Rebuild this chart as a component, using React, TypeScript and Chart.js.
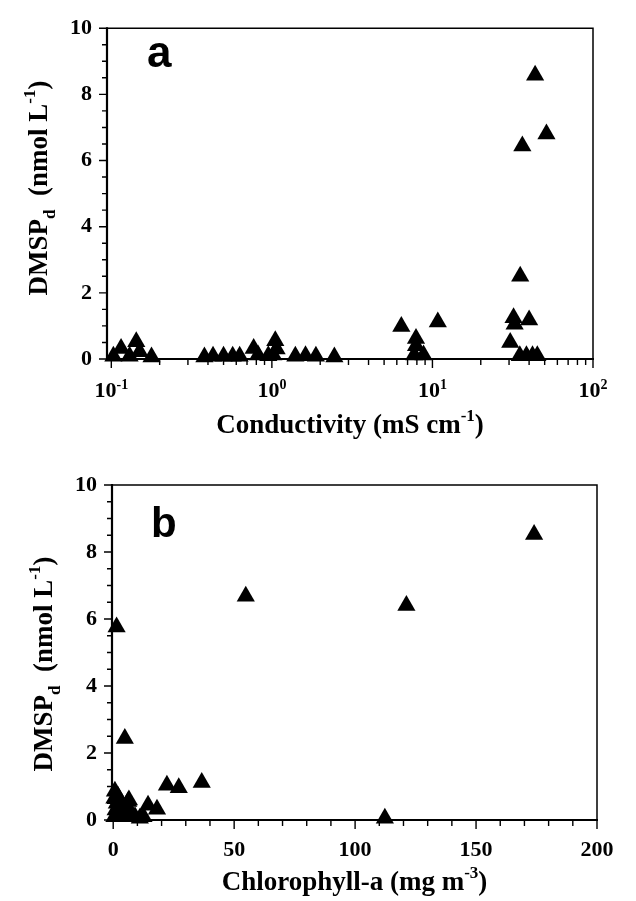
import React, { useEffect, useRef } from 'react';
import { Chart, registerables } from 'chart.js';

Chart.register(...registerables);

// ---- Panel a: conductivity (mS cm-1) vs DMSPd (nmol L-1)
const conductivity = [
  0.103, 0.115, 0.13, 0.143, 0.15, 0.178,
  0.38, 0.43, 0.5, 0.57, 0.63, 0.77, 0.82, 0.95, 1.02, 1.05, 1.07, 1.4, 1.62, 1.88, 2.45,
  6.4, 7.9, 7.9, 7.7, 8.8, 10.8,
  30.5, 32, 32.5, 35.2, 36.3, 40, 35, 38.5, 42, 45, 43.6, 51.3,
];
const dmspA = [
  0.08, 0.32, 0.08, 0.52, 0.22, 0.06,
  0.06, 0.08, 0.08, 0.08, 0.08, 0.32, 0.12, 0.1, 0.12, 0.55, 0.3, 0.08, 0.1, 0.08, 0.06,
  0.98, 0.62, 0.4, 0.12, 0.12, 1.12,
  0.5, 1.25, 1.05, 2.5, 6.44, 1.18, 0.1, 0.1, 0.1, 0.1, 8.58, 6.8,
];

// ---- Panel b: chlorophyll-a (mg m-3) vs DMSPd (nmol L-1)
const chlorophyll = [
  174, 54.8, 121.2, 1.4, 4.8, 22.2, 27.1, 36.6, 112.3, 14.4, 18.1, 0.7, 6.2,
  0.5, 1, 1.5, 2.5, 3, 4, 5.5, 6.5, 7.5, 9, 11, 12.5, 0.5, 2,
];
const dmspB = [
  8.52, 6.68, 6.4, 5.76, 2.43, 1.04, 0.96, 1.12, 0.05, 0.44, 0.32, 0.86, 0.55,
  0.1, 0.3, 0.5, 0.15, 0.4, 0.1, 0.3, 0.6, 0.2, 0.1, 0.05, 0.1, 0.65, 0.7,
];

const yTickValues = [0, 2, 4, 6, 8, 10];
const condTickValues = [0.1, 1, 10, 100];
const condTickExponents = ['-1', '0', '1', '2'];
const chlTickValues = [0, 50, 100, 150, 200];

const SERIF = '"Liberation Serif", "Times New Roman", serif';
const SANS = '"Liberation Sans", Arial, sans-serif';

type Piece = { t: string; k: 'n' | 'sub' | 'sup' };

function drawRich(ctx: CanvasRenderingContext2D, pieces: Piece[], x: number, y: number, size: number) {
  const small = Math.round(size * 0.62);
  const fonts = pieces.map((p) => (p.k === 'n' ? `bold ${size}px ${SERIF}` : `bold ${small}px ${SERIF}`));
  const widths = pieces.map((p, i) => {
    ctx.font = fonts[i];
    return ctx.measureText(p.t).width;
  });
  const total = widths.reduce((a, b) => a + b, 0);
  let cx = x - total / 2;
  ctx.textAlign = 'left';
  ctx.textBaseline = 'alphabetic';
  pieces.forEach((p, i) => {
    ctx.font = fonts[i];
    const dy = p.k === 'sub' ? size * 0.3 : p.k === 'sup' ? -size * 0.45 : 0;
    ctx.fillText(p.t, cx, y + dy);
    cx += widths[i];
  });
}

type DecorCfg = {
  id: string;
  letter: string;
  letterX: number;
  letterY: number;
  letterSize: number;
  xTitle: Piece[];
  xTitleY: number;
  yTitle: Piece[];
  yTitleX: number;
  yTitleY: number;
  xMajor: number[];
  xMinor: number[];
  yMajor: number[];
  yMinor: number[];
  xLabels?: { values: number[]; exps: string[]; baseline: number };
};

function makeDecor(cfg: DecorCfg) {
  return {
    id: cfg.id,
    afterDraw(chart: any) {
      const ctx: CanvasRenderingContext2D = chart.ctx;
      const { left, right, top, bottom } = chart.chartArea;
      const xs = chart.scales.x;
      const ys = chart.scales.y;
      ctx.save();
      ctx.strokeStyle = '#000';
      ctx.fillStyle = '#000';
      // frame
      ctx.lineWidth = 1.5;
      ctx.beginPath();
      ctx.moveTo(left, top);
      ctx.lineTo(right, top);
      ctx.lineTo(right, bottom);
      ctx.stroke();
      ctx.lineWidth = 2.2;
      ctx.beginPath();
      ctx.moveTo(left, top - 1);
      ctx.lineTo(left, bottom);
      ctx.lineTo(right + 1, bottom);
      ctx.stroke();
      // ticks
      ctx.lineWidth = 1.4;
      ctx.beginPath();
      cfg.xMajor.forEach((v) => {
        const px = xs.getPixelForValue(v);
        ctx.moveTo(px, bottom);
        ctx.lineTo(px, bottom + 9);
      });
      cfg.xMinor.forEach((v) => {
        const px = xs.getPixelForValue(v);
        ctx.moveTo(px, bottom);
        ctx.lineTo(px, bottom + 6);
      });
      cfg.yMajor.forEach((v) => {
        const py = ys.getPixelForValue(v);
        ctx.moveTo(left, py);
        ctx.lineTo(left - 8, py);
      });
      cfg.yMinor.forEach((v) => {
        const py = ys.getPixelForValue(v);
        ctx.moveTo(left, py);
        ctx.lineTo(left - 5, py);
      });
      ctx.stroke();
      // custom x labels (powers of ten)
      if (cfg.xLabels) {
        const base = 22;
        const sm = 14;
        cfg.xLabels.values.forEach((v, i) => {
          const px = xs.getPixelForValue(v);
          ctx.font = `bold ${base}px ${SERIF}`;
          const w1 = ctx.measureText('10').width;
          ctx.font = `bold ${sm}px ${SERIF}`;
          const w2 = ctx.measureText(cfg.xLabels!.exps[i]).width;
          const x0 = px - (w1 + w2) / 2;
          ctx.textAlign = 'left';
          ctx.textBaseline = 'alphabetic';
          ctx.font = `bold ${base}px ${SERIF}`;
          ctx.fillText('10', x0, cfg.xLabels!.baseline);
          ctx.font = `bold ${sm}px ${SERIF}`;
          ctx.fillText(cfg.xLabels!.exps[i], x0 + w1, cfg.xLabels!.baseline - 8);
        });
      }
      // titles
      drawRich(ctx, cfg.xTitle, (left + right) / 2, cfg.xTitleY, 27);
      ctx.save();
      ctx.translate(cfg.yTitleX, cfg.yTitleY);
      ctx.rotate(-Math.PI / 2);
      drawRich(ctx, cfg.yTitle, 0, 0, 27);
      ctx.restore();
      // panel letter
      ctx.font = `bold ${cfg.letterSize}px ${SANS}`;
      ctx.textAlign = 'left';
      ctx.textBaseline = 'alphabetic';
      ctx.fillText(cfg.letter, cfg.letterX, cfg.letterY);
      ctx.restore();
    },
  };
}

const yTitle: Piece[] = [
  { t: 'DMSP', k: 'n' },
  { t: 'd', k: 'sub' },
  { t: '  (nmol L', k: 'n' },
  { t: '-1', k: 'sup' },
  { t: ')', k: 'n' },
];

const yMinorValues: number[] = [];
for (let i = 0; i <= 20; i++) if (i % 4 !== 0) yMinorValues.push(i / 2);

const condMinor: number[] = [];
[0.1, 1, 10].forEach((d) => {
  for (let m = 2; m <= 9; m++) condMinor.push(d * m);
});

const chlMinor: number[] = [];
for (let v = 0; v <= 200; v += 10) if (v % 50 !== 0) chlMinor.push(v);

const tickFont = { family: SERIF, size: 22, weight: 'bold' as const };

function baseY(width: number) {
  return {
    min: 0,
    max: 10,
    afterBuildTicks: (s: any) => {
      s.ticks = yTickValues.map((v) => ({ value: v }));
    },
    ticks: { font: tickFont, color: '#000', padding: 15 },
    grid: { display: false, drawTicks: false },
    border: { display: false },
    afterFit: (s: any) => {
      s.width = width;
    },
  };
}

function dataset(xs: number[], ys: number[]) {
  return {
    data: xs.map((x, i) => ({ x, y: ys[i] })),
    pointStyle: 'triangle',
    radius: 10.5,
    hoverRadius: 10.5,
    backgroundColor: '#000',
    borderColor: '#000',
    borderWidth: 0,
    clip: false as const,
  };
}

export default function App() {
  const refA = useRef<HTMLCanvasElement>(null);
  const refB = useRef<HTMLCanvasElement>(null);

  useEffect(() => {
    const chartA = new Chart(refA.current as HTMLCanvasElement, {
      type: 'scatter',
      data: { datasets: [dataset(conductivity, dmspA) as any] },
      options: {
        responsive: false,
        animation: false,
        devicePixelRatio: 1,
        events: [],
        layout: { padding: { top: 23, right: 43, left: 0, bottom: 0 } },
        plugins: { legend: { display: false }, tooltip: { enabled: false } },
        scales: {
          x: {
            type: 'logarithmic',
            min: 0.094,
            max: 100,
            afterBuildTicks: (s: any) => {
              s.ticks = condTickValues.map((v) => ({ value: v }));
            },
            ticks: { display: false },
            grid: { display: false, drawTicks: false },
            border: { display: false },
            afterFit: (s: any) => {
              s.height = 440 - 359;
            },
          },
          y: baseY(107) as any,
        },
      },
      plugins: [
        makeDecor({
          id: 'decorA',
          letter: 'a',
          letterX: 147,
          letterY: 67,
          letterSize: 44,
          xTitle: [
            { t: 'Conductivity (mS cm', k: 'n' },
            { t: '-1', k: 'sup' },
            { t: ')', k: 'n' },
          ],
          xTitleY: 433,
          yTitle,
          yTitleX: 47,
          yTitleY: 188,
          xMajor: condTickValues,
          xMinor: condMinor,
          yMajor: yTickValues,
          yMinor: yMinorValues,
          xLabels: { values: condTickValues, exps: condTickExponents, baseline: 397 },
        }),
      ],
    });

    const chartB = new Chart(refB.current as HTMLCanvasElement, {
      type: 'scatter',
      data: { datasets: [dataset(chlorophyll, dmspB) as any] },
      options: {
        responsive: false,
        animation: false,
        devicePixelRatio: 1,
        events: [],
        layout: { padding: { top: 45, right: 39, left: 0, bottom: 0 } },
        plugins: { legend: { display: false }, tooltip: { enabled: false } },
        scales: {
          x: {
            type: 'linear',
            min: -0.5,
            max: 200,
            afterBuildTicks: (s: any) => {
              s.ticks = chlTickValues.map((v) => ({ value: v }));
            },
            ticks: { font: tickFont, color: '#000', padding: 17, maxRotation: 0 },
            grid: { display: false, drawTicks: false },
            border: { display: false },
            afterFit: (s: any) => {
              s.height = 461 - 380;
            },
          },
          y: baseY(112) as any,
        },
      },
      plugins: [
        makeDecor({
          id: 'decorB',
          letter: 'b',
          letterX: 151,
          letterY: 97,
          letterSize: 42,
          xTitle: [
            { t: 'Chlorophyll-a (mg m', k: 'n' },
            { t: '-3', k: 'sup' },
            { t: ')', k: 'n' },
          ],
          xTitleY: 450,
          yTitle,
          yTitleX: 52,
          yTitleY: 224,
          xMajor: chlTickValues,
          xMinor: chlMinor,
          yMajor: yTickValues,
          yMinor: yMinorValues,
        }),
      ],
    });

    return () => {
      chartA.destroy();
      chartB.destroy();
    };
  }, []);

  return (
    <div style={{ position: 'absolute', left: 0, top: 0, width: 636, height: 901, background: '#fff' }}>
      <canvas ref={refA} width={636} height={440} style={{ position: 'absolute', left: 0, top: 0, width: 636, height: 440 }} />
      <canvas ref={refB} width={636} height={461} style={{ position: 'absolute', left: 0, top: 440, width: 636, height: 461 }} />
    </div>
  );
}
